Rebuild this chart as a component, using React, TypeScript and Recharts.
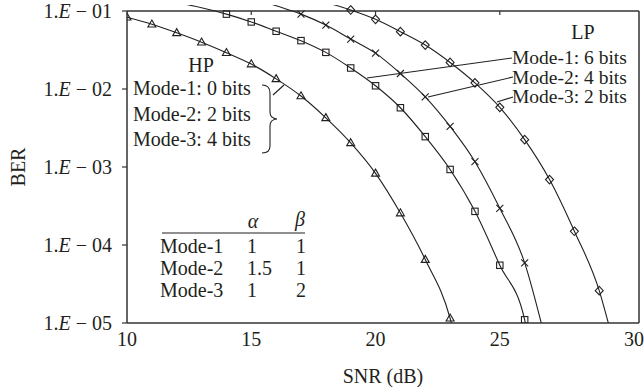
import React from 'react';
import { LineChart, Line, XAxis, YAxis, ReferenceLine, Customized } from 'recharts';

const FONT = '"Liberation Serif", "Times New Roman", serif';
const INK = '#231f20';
const FS = 20;

// Axis ticks
const xTicks = [10, 15, 20, 25, 30];
const xTickLabels = ['10', '15', '20', '25', '30'];
const xTopTicks = [15, 20, 25];
const yTicks = [1e-5, 1e-4, 1e-3, 1e-2, 1e-1];
const yTickExp = ['05', '04', '03', '02', '01'];
const X_MIN = 10;
const X_MAX = 30.6;
const Y_MIN = 1e-5;
const Y_TOP = 0.1194;
const Y_FRAME = 0.1;

// HP curve (triangles)
const triSNR = [10, 11, 12, 13, 14, 15, 16, 17, 18, 19, 20, 21, 22, 23];
const triBER = [0.0832, 0.0676, 0.0525, 0.0398, 0.0292, 0.0209, 0.0135, 0.00813, 0.00427, 0.00204, 8.3e-4, 2.57e-4, 6.5e-5, 1.15e-5];
const triLeadSNR: number[] = [];
const triLeadBER: number[] = [];
const triTailSNR = [23.1];
const triTailBER = [8.7e-6];

// LP Mode-1 (squares)
const sqSNR = [14, 15, 16, 17, 18, 19, 20, 21, 22, 23, 24, 25, 26];
const sqBER = [0.0912, 0.0724, 0.055, 0.0417, 0.0295, 0.0186, 0.011, 0.00575, 0.00245, 9.3e-4, 2.7e-4, 5.5e-5, 1.1e-5];
const sqLeadSNR = [12, 13];
const sqLeadBER = [0.129, 0.11];
const sqTailSNR = [26.05];
const sqTailBER = [8.9e-6];

// LP Mode-2 (crosses)
const crSNR = [17, 18, 19, 20, 21, 22, 23, 24, 25, 26];
const crBER = [0.0912, 0.0661, 0.0437, 0.0288, 0.0158, 0.00794, 0.00331, 0.00117, 2.95e-4, 5.9e-5];
const crLeadSNR = [15, 16];
const crLeadBER = [0.148, 0.117];
const crTailSNR = [26.7];
const crTailBER = [9.1e-6];

// LP Mode-3 (diamonds)
const dmSNR = [19, 20, 21, 22, 23, 24, 25, 26, 27, 28, 29];
const dmBER = [0.103, 0.0782, 0.0543, 0.0366, 0.0219, 0.012, 0.00582, 0.00224, 6.9e-4, 1.5e-4, 2.6e-5];
const dmLeadSNR = [18];
const dmLeadBER = [0.129];
const dmTailSNR = [29.4];
const dmTailBER = [9.1e-6];

// Annotations
const hpTitle = 'HP';
const hpLines = ['Mode-1: 0 bits', 'Mode-2: 2 bits', 'Mode-3: 4 bits'];
const lpTitle = 'LP';
const lpLines = ['Mode-1: 6 bits', 'Mode-2: 4 bits', 'Mode-3: 2 bits'];
const tableHead = ['α', 'β'];
const tableModes = ['Mode-1', 'Mode-2', 'Mode-3'];
const tableAlpha = ['1', '1.5', '1'];
const tableBeta = ['1', '1', '2'];

type Pt = { x: number; y: number; m: boolean };
function build(snr: number[], ber: number[], ls: number[], lb: number[], ts: number[], tb: number[]): Pt[] {
  return [
    ...ls.map((x, i) => ({ x, y: lb[i], m: false })),
    ...snr.map((x, i) => ({ x, y: ber[i], m: true })),
    ...ts.map((x, i) => ({ x, y: tb[i], m: false })),
  ];
}

const triData = build(triSNR, triBER, triLeadSNR, triLeadBER, triTailSNR, triTailBER);
const sqData = build(sqSNR, sqBER, sqLeadSNR, sqLeadBER, sqTailSNR, sqTailBER);
const crData = build(crSNR, crBER, crLeadSNR, crLeadBER, crTailSNR, crTailBER);
const dmData = build(dmSNR, dmBER, dmLeadSNR, dmLeadBER, dmTailSNR, dmTailBER);

const makeDot = (kind: string) => (props: any) => {
  const { cx, cy, payload, index } = props;
  const key = `${kind}-${index}`;
  if (!payload || !payload.m || cx == null || cy == null) return <g key={key} />;
  const common = { fill: 'none', stroke: INK, strokeWidth: 1.1 };
  if (kind === 'tri') {
    return <path key={key} d={`M${cx},${cy - 4.2} L${cx + 4},${cy + 2.8} L${cx - 4},${cy + 2.8} Z`} {...common} />;
  }
  if (kind === 'sq') {
    return <rect key={key} x={cx - 3.2} y={cy - 3.2} width={6.4} height={6.4} {...common} />;
  }
  if (kind === 'cr') {
    return <path key={key} d={`M${cx - 3.5},${cy - 3.5} L${cx + 3.5},${cy + 3.5} M${cx - 3.5},${cy + 3.5} L${cx + 3.5},${cy - 3.5}`} {...common} />;
  }
  return <path key={key} d={`M${cx},${cy - 4.3} L${cx + 4},${cy} L${cx},${cy + 4.3} L${cx - 4},${cy} Z`} {...common} />;
};

const XTick = (props: any) => {
  const { x, y, index } = props;
  const dx = index === xTicks.length - 1 ? 10 : 0;
  return (
    <text x={x + dx} y={y + 23} textAnchor="middle" fontFamily={FONT} fontSize={FS} fill={INK}>
      {xTickLabels[index]}
    </text>
  );
};

const YTick = (props: any) => {
  const { x, y, index } = props;
  return (
    <text x={x} y={y + 6.5} textAnchor="end" fontFamily={FONT} fontSize={FS} fill={INK}>
      1.<tspan fontStyle="italic">E</tspan>{' \u2212 '}{yTickExp[index]}
    </text>
  );
};

const TopTick = (props: any) => {
  const { x1, y1 } = props;
  if (x1 == null || y1 == null) return <g />;
  return <line x1={x1} y1={y1} x2={x1} y2={y1 + 4} stroke="#333" strokeWidth={1.2} />;
};

const Annotations = () => {
  const t = { fontFamily: FONT, fontSize: FS, fill: INK };
  const tLP = { fontFamily: FONT, fontSize: 19.5, fill: INK };
  return (
    <g>
      {/* axis titles */}
      <text x={25} y={167} transform="rotate(-90 25 167)" textAnchor="middle" {...t}>BER</text>
      <text x={383} y={383} textAnchor="middle" {...t}>SNR (dB)</text>

      {/* HP block */}
      <text x={201} y={72} textAnchor="middle" {...t}>{hpTitle}</text>
      {hpLines.map((s, i) => (
        <text key={s} x={133} y={95 + i * 25.5} {...t}>{s}</text>
      ))}
      <path d="M262,85 Q270,85 270,93 L270,112 Q270,118.5 277,119 Q270,119.5 270,126 L270,146 Q270,153 262,153" fill="none" stroke={INK} strokeWidth={1.1} />
      <line x1={273} y1={95} x2={284} y2={85} stroke={INK} strokeWidth={1.1} />

      {/* LP block */}
      <text x={583} y={39} textAnchor="middle" {...t}>{lpTitle}</text>
      {lpLines.map((s, i) => (
        <text key={s} x={512} y={64 + i * 19.5} {...tLP}>{s}</text>
      ))}
      <line x1={512} y1={58} x2={367} y2={78} stroke={INK} strokeWidth={1.1} />
      <line x1={513} y1={77} x2={428} y2={97} stroke={INK} strokeWidth={1.1} />
      <line x1={513} y1={97} x2={497} y2={102} stroke={INK} strokeWidth={1.1} />

      {/* table */}
      <text x={253} y={228} textAnchor="middle" fontStyle="italic" {...t}>{tableHead[0]}</text>
      <text x={300} y={226} textAnchor="middle" fontStyle="italic" {...t}>{tableHead[1]}</text>
      <line x1={162} y1={233} x2={305} y2={233} stroke={INK} strokeWidth={1.1} />
      {tableModes.map((m, i) => (
        <g key={m}>
          <text x={160} y={253 + i * 22} {...t}>{m}</text>
          <text x={247} y={253 + i * 22} {...t}>{tableAlpha[i]}</text>
          <text x={296} y={253 + i * 22} {...t}>{tableBeta[i]}</text>
        </g>
      ))}
    </g>
  );
};

export default function App() {
  return (
    <div style={{ position: 'absolute', left: 0, top: 0, width: 644, height: 387, background: '#fff' }}>
      <LineChart width={644} height={387} margin={{ top: 5, right: 5, bottom: 0, left: 0 }}>
        <XAxis
          type="number"
          dataKey="x"
          domain={[X_MIN, X_MAX]}
          ticks={xTicks}
          allowDataOverflow
          height={64}
          tickLine={false}
          tickSize={0}
          tickMargin={0}
          axisLine={{ stroke: '#333', strokeWidth: 1.5 }}
          tick={<XTick />}
          interval={0}
        />
        <YAxis
          type="number"
          scale="log"
          domain={[Y_MIN, Y_TOP]}
          ticks={yTicks}
          allowDataOverflow
          width={127}
          axisLine={false}
          tickLine={{ stroke: '#333', strokeWidth: 1.2 }}
          tickSize={5}
          tickMargin={10}
          tick={<YTick />}
          interval={0}
        />
        <ReferenceLine y={Y_FRAME} stroke="#333" strokeWidth={1.5} />
        <ReferenceLine segment={[{ x: X_MIN, y: Y_MIN }, { x: X_MIN, y: Y_FRAME }]} stroke="#333" strokeWidth={1.5} />
        <ReferenceLine segment={[{ x: X_MAX, y: Y_MIN }, { x: X_MAX, y: Y_FRAME }]} stroke="#333" strokeWidth={1.5} />
        {xTopTicks.map((v) => (
          <ReferenceLine key={v} segment={[{ x: v, y: Y_FRAME }, { x: v, y: Y_FRAME }]} shape={TopTick} />
        ))}
        <Line data={triData} dataKey="y" type="monotone" stroke={INK} strokeWidth={1.1} dot={makeDot('tri')} isAnimationActive={false} />
        <Line data={sqData} dataKey="y" type="monotone" stroke={INK} strokeWidth={1.1} dot={makeDot('sq')} isAnimationActive={false} />
        <Line data={crData} dataKey="y" type="monotone" stroke={INK} strokeWidth={1.1} dot={makeDot('cr')} isAnimationActive={false} />
        <Line data={dmData} dataKey="y" type="monotone" stroke={INK} strokeWidth={1.1} dot={makeDot('dm')} isAnimationActive={false} />
        <Customized component={Annotations} />
      </LineChart>
    </div>
  );
}
